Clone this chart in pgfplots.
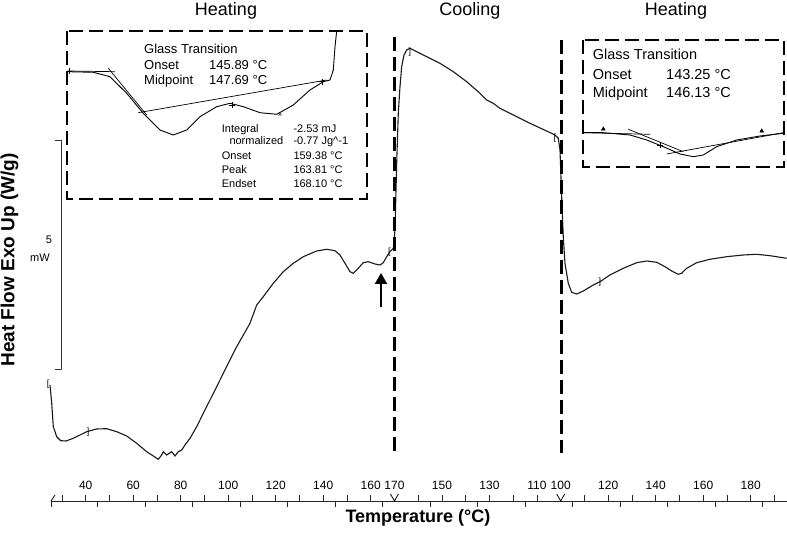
\documentclass[border=0pt]{standalone}
\usepackage{fontspec}
\setmainfont{Liberation Sans}
\usepackage{pgfplots}
\pgfplotsset{compat=1.18}
\usetikzlibrary{arrows.meta}
\begin{document}
\begin{tikzpicture}
% ---------------- main thermogram (x: temperature programme position) -------------
\begin{axis}[at={(51pt,36pt)}, anchor=south west, scale only axis,
  width=736pt, height=501pt,
  xmin=25.39, xmax=335.3, ymin=36, ymax=537, clip=false,
  axis x line=bottom, axis y line=none,
  axis line style={-, line width=0.9pt, black!85},
  tick align=inside, major tick length=0pt, minor tick length=6pt,
  tick style={line width=0.8pt, black!85},
  xtick={40,60,80,100,120,140,160,170,190,210,230,240,260,280,300,320},
  xticklabels={40,60,80,100,120,140,160,170,150,130,110,100,120,140,160,180},
  minor xtick={30,40,50,60,70,80,90,100,110,120,130,140,150,160,180,190,200,210,220,230,250,260,270,280,290,300,310,320,330},
  xticklabel style={anchor=south, yshift=7.5pt, font=\fontsize{12}{12}\selectfont},
  extra x ticks={25.4,45,65,85,105,125,145,165,185,205,225,245,265,285,305,325},
  extra x tick labels={},
  extra x tick style={tick align=outside, major tick length=6pt}]
\addplot[line width=1.1pt, black!90] coordinates {
(24.97,152) (25.68,134) (26.36,110.3) (27.79,100.3) (29.47,96.3) (31.7,96) (34.78,98.7)
(40.42,105.3) (44.63,108) (48.84,108.3) (53.05,105.3) (57.26,101) (61.47,93.7) (65.68,85.3)
(68.46,81) (70.57,77.7) (72.0,82) (72.67,85.3) (74.11,82) (76.21,85.3) (77.6,81) (78.99,85.3)
(80.42,87) (81.81,92) (83.92,98.7) (86.74,110.3) (89.52,123.7) (92.34,137) (95.16,150.3)
(97.94,163.7) (103.28,189) (109.18,213.7) (112.0,232) (114.78,240.3) (118.99,253.7)
(123.2,265.3) (127.41,273.7) (131.62,280.3) (137.26,286) (141.47,287.7) (144.97,286.3)
(147.07,282) (149.18,273.7) (151.28,265.3) (152.67,263.7) (154.11,267) (156.88,274.3)
(158.99,275.3) (161.81,273) (163.92,272) (165.31,274.3) (166.74,280.3) (168.13,285.3)
(169.52,288.7) (170.23,307) (170.95,373.7) (171.62,423.7) (172.34,450.3) (173.05,470.3)
(174.02,482) (175.16,487) (176.55,488.7) (182.15,482) (189.18,473.7) (194.78,465.3)
(200.42,455.3) (206.02,443.7) (208.84,437) (211.62,433.7) (214.44,428.7) (220.04,422)
(227.07,413.7) (234.1,406) (237.6,402) (238.99,398.7) (239.71,387) (240.42,340.3)
(241.09,300.3) (241.81,273.7) (243.2,253.7) (244.63,244.7) (246.74,243) (249.52,246)
(253.73,252) (256.55,255.3) (260.76,262) (266.36,268.7) (272.0,274.3) (276.21,276)
(280.42,274.7) (283.92,270.3) (286.74,266) (289.52,262.7) (290.95,263.7) (293.05,268.7)
(297.26,274.3) (302.86,277.7) (309.89,280.3) (316.88,282) (322.53,282.7) (328.13,281.3)
(335.16,278.7)};
\addplot[only marks, mark=text, text mark={\fontsize{9}{9}\selectfont [}]
  coordinates {(24.13,153) (167.9,285) (237.6,399)};
\addplot[only marks, mark=text, text mark={\fontsize{9}{9}\selectfont ]}]
  coordinates {(40.97,105) (176.55,485) (256.55,255)};
\draw[line width=0.8pt] (axis cs:170,36) ++(-4pt,7pt) -- (axis cs:170,36) -- ++(4pt,7pt);
\draw[line width=0.8pt] (axis cs:240,36) ++(-4pt,7pt) -- (axis cs:240,36) -- ++(4pt,7pt);
\draw[line width=0.8pt] (axis cs:25.39,36) -- ++(4pt,6pt);
\end{axis}
% ---------------- overlay: insets, annotations ----------------
\begin{axis}[at={(0pt,0pt)}, anchor=south west, scale only axis,
  width=787pt, height=537pt, xmin=0, xmax=787, ymin=0, ymax=537,
  hide axis, clip=false]
% left inset curve
\addplot[line width=0.9pt, black] coordinates {
(67.3,465.3) (93.3,464.7) (110,460.3) (126.7,443.7) (143.3,423.7) (160,407) (173.3,402)
(186.7,407) (200,420.3) (216.7,430.3) (230,433.7) (243.3,430.3) (260,424.3) (276.7,422.7)
(293.3,432) (310,447) (323.3,455.3) (330,457) (333.3,467) (335,490.3) (336.7,506)};
\addplot[line width=0.7pt, black] coordinates {(67.3,466) (115,465.3)};
\addplot[line width=0.7pt, black] coordinates {(108.3,468.7) (146.7,422)};
\addplot[line width=0.7pt, black] coordinates {(138.3,424.3) (326.7,457)};
\addplot[only marks, mark=+, mark size=3pt, black] coordinates {(231.7,432) (321.7,455.3) (69,466)};
\addplot[only marks, mark=x, mark size=2pt, black] coordinates {(280,422.7)};
% right inset curve
\addplot[line width=0.9pt, black] coordinates {
(583.3,404.3) (603.3,404.3) (630,402) (646.7,397) (663.3,390.3) (680,383) (693.3,380.3)
(703.3,382) (716.7,390.3) (736.7,397) (760,401) (783.3,403.7)};
\addplot[line width=0.7pt, black] coordinates {(583.3,404.3) (650,402.7)};
\addplot[line width=0.7pt, black] coordinates {(628.3,407.7) (683.3,385.3)};
\addplot[line width=0.7pt, black] coordinates {(666.7,383) (783.3,404.3)};
\addplot[only marks, mark=+, mark size=3pt, black] coordinates {(660,392)};
\addplot[only marks, mark=triangle*, mark size=2.2pt, black] coordinates {(603.3,408) (761.7,406)};
% dashed boxes and dividers
\draw[line width=2.2pt, dash pattern=on 14pt off 6pt] (axis cs:67,506) rectangle (axis cs:367,338);
\draw[line width=2.2pt, dash pattern=on 14pt off 6pt] (axis cs:583,497) rectangle (axis cs:784,370);
\draw[line width=2.2pt, dash pattern=on 14pt off 6pt] (axis cs:394.5,500) -- (axis cs:394.5,86);
\draw[line width=2.2pt, dash pattern=on 14pt off 6pt] (axis cs:561.5,497) -- (axis cs:561.5,84);
% arrow
\draw[line width=2pt, -{Triangle[width=12pt,length=11pt]}] (axis cs:381,230) -- (axis cs:381,264);
% scale bar
\draw[line width=0.8pt, black!80] (axis cs:55,396.3) -- (axis cs:61.7,396.3) -- (axis cs:61.7,167.7) -- (axis cs:55,167.7);
\node[font=\fontsize{11}{11}\selectfont] at (axis cs:49,297) {5};
\node[font=\fontsize{11}{11}\selectfont] at (axis cs:40,279.3) {mW};
% titles
\node[font=\fontsize{18}{18}\selectfont, anchor=base] at (axis cs:226,521) {Heating};
\node[font=\fontsize{18}{18}\selectfont, anchor=base] at (axis cs:470,521) {Cooling};
\node[font=\fontsize{18}{18}\selectfont, anchor=base] at (axis cs:676,521) {Heating};
% left inset text
\begin{scope}[every node/.style={anchor=base west, inner sep=0pt, font=\fontsize{13}{13}\selectfont}]
\node at (axis cs:144,483.7) {Glass Transition};
\node at (axis cs:144,467.7) {Onset};
\node at (axis cs:209,467.7) {145.89 °C};
\node at (axis cs:144,452) {Midpoint};
\node at (axis cs:209,452) {147.69 °C};
\end{scope}
\begin{scope}[every node/.style={anchor=base west, inner sep=0pt, font=\fontsize{11}{11}\selectfont}]
\node at (axis cs:221.7,404.3) {Integral};
\node at (axis cs:293.3,404.3) {-2.53 mJ};
\node at (axis cs:229.3,392) {normalized};
\node at (axis cs:293.3,392) {-0.77 Jg\^{}-1};
\node at (axis cs:221.7,377.7) {Onset};
\node at (axis cs:293.3,377.7) {159.38 °C};
\node at (axis cs:221.7,363.7) {Peak};
\node at (axis cs:293.3,363.7) {163.81 °C};
\node at (axis cs:221.7,349.7) {Endset};
\node at (axis cs:293.3,349.7) {168.10 °C};
\end{scope}
% right inset text
\begin{scope}[every node/.style={anchor=base west, inner sep=0pt, font=\fontsize{14.5}{14.5}\selectfont}]
\node at (axis cs:592.7,477) {Glass Transition};
\node at (axis cs:592.7,457) {Onset};
\node at (axis cs:666,457) {143.25 °C};
\node at (axis cs:592.7,439.7) {Midpoint};
\node at (axis cs:666,439.7) {146.13 °C};
\end{scope}
% axis titles
\node[font=\bfseries\fontsize{18}{18}\selectfont, anchor=base] at (axis cs:418,14) {Temperature (°C)};
\node[font=\bfseries\fontsize{19}{19}\selectfont, rotate=90] at (axis cs:9.5,277) {Heat Flow Exo Up (W/g)};
\end{axis}
\pgfresetboundingbox
\useasboundingbox (0pt,0pt) rectangle (787pt,537pt);
\end{tikzpicture}
\end{document}
